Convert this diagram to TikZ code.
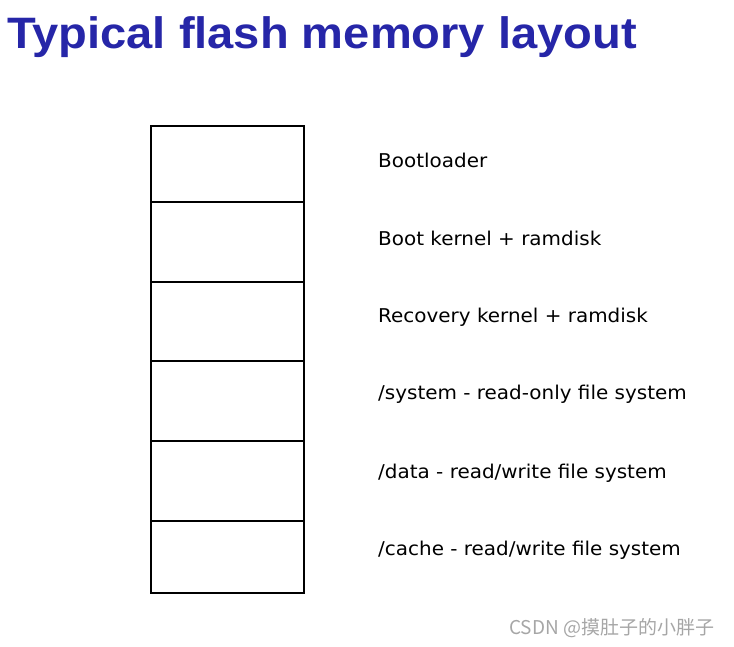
\documentclass[tikz,border=0pt]{standalone}
\usepackage{fontspec}
\setmainfont{DejaVu Sans}
\newfontfamily\titlefont{Liberation Sans}
\newfontfamily\cjkfont{Noto Sans CJK SC}
\begin{document}
\begin{tikzpicture}[x=1pt,y=-1pt,
  lbl/.style={anchor=west,font=\fontsize{19}{22}\selectfont,inner sep=0pt,xscale=1.05},
  cell/.style={draw,line width=1.2pt}]
\useasboundingbox (0,0) rectangle (734,647);
\node[anchor=west,inner sep=0pt,xscale=1.07,text=blue!60!black!85!white,font=\titlefont\bfseries\fontsize{44}{48}\selectfont] (title) at (7,37) {Typical flash memory layout};
\foreach \i/\a/\b in {1/126/202,2/202/282,3/282/361,4/361/441,5/441/521,6/521/593}{
  \draw[cell] (151,\a) rectangle (304,\b);
}
\node[lbl] (l1) at (378,160) {Bootloader};
\node[lbl] (l2) at (378,238) {Boot kernel + ramdisk};
\node[lbl] (l3) at (378,317) {Recovery kernel + ramdisk};
\node[lbl] (l4) at (378,394) {/system - read-only file system};
\node[lbl] (l5) at (378,473) {/data - read/write file system};
\node[lbl] (l6) at (378,550) {/cache - read/write file system};
\node[anchor=west,inner sep=0pt,text=gray!70,font=\cjkfont\fontsize{19}{21}\selectfont] (wm) at (509,628) {CSDN @摸肚子的小胖子};
\end{tikzpicture}
\end{document}
